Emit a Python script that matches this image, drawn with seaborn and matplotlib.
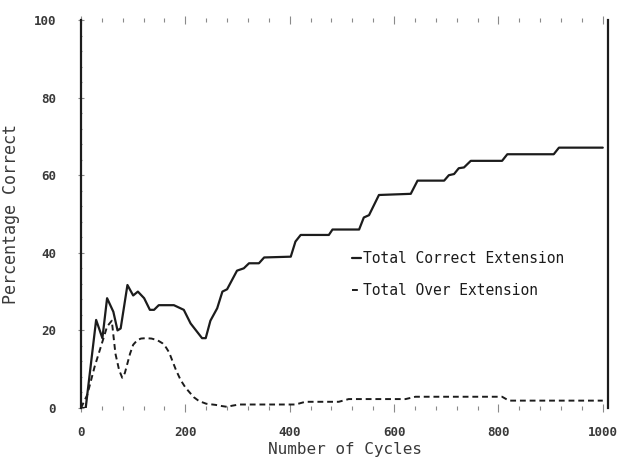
import matplotlib
matplotlib.use("Agg")
import matplotlib.pyplot as plt
import seaborn as sns
from matplotlib.ticker import MultipleLocator

# Learning curves: percentage correct against training cycles
cycles_correct = [0, 9, 29, 41, 50, 62, 70, 76, 89, 100, 109, 121, 132, 140, 149,
                  178, 197, 210, 232, 239, 248, 261, 271, 280, 299, 312, 322, 341,
                  351, 402, 411, 421, 475, 482, 533, 542, 552, 571, 632, 645, 696,
                  705, 715, 724, 734, 747, 807, 817, 906, 916, 1000]
pct_correct = [0, 0, 22.7, 18, 28.3, 24.8, 20, 20.5, 31.7, 29, 30, 28.3, 25.3, 25.3,
               26.5, 26.5, 25.3, 21.8, 18, 18, 22.5, 25.7, 30, 30.6, 35.4, 36, 37.3,
               37.3, 38.8, 39, 42.9, 44.6, 44.6, 46, 46, 49.1, 49.7, 54.9, 55.2, 58.6,
               58.6, 60, 60.3, 61.8, 62, 63.7, 63.7, 65.4, 65.4, 67.1, 67.1]

cycles_over = [0, 12, 26, 42, 50, 59, 66, 73, 79, 84, 89, 94, 100, 108, 115, 124,
               135, 146, 156, 163, 169, 175, 182, 191, 200, 207, 216, 226, 240, 258,
               270, 280, 290, 303, 411, 430, 494, 513, 622, 641, 807, 820, 1000]
pct_over = [0, 3.4, 10.6, 17.5, 21, 22.5, 14, 9.8, 7.8, 9, 11.5, 14, 16.3, 17.5,
            17.9, 18, 17.9, 17.5, 16.7, 15.6, 14.3, 12.2, 9.8, 7.2, 5.3, 4.2, 2.8,
            1.8, 1.1, 0.8, 0.5, 0.3, 0.6, 0.9, 0.9, 1.6, 1.6, 2.3, 2.3, 2.9, 2.9,
            1.9, 1.9]

series_names = ["Total Correct Extension", "Total Over Extension"]
x_ticks = [0, 200, 400, 600, 800, 1000]
y_ticks = [0, 20, 40, 60, 80, 100]

sns.set_style("white")
plt.rcParams["font.family"] = ["DejaVu Sans Mono"]

ink = "#1c1c1c"
text_col = "#3a3a3a"
tick_col = "#8a8a8a"

fig = plt.figure(figsize=(6.22, 4.58), dpi=100)
ax = fig.add_axes([81 / 622, 1 - 408 / 458, (608 - 81) / 622, 388 / 458])

sns.lineplot(x=cycles_correct, y=pct_correct, ax=ax, color=ink, lw=1.6,
             sort=False, estimator=None, label=series_names[0])
sns.lineplot(x=cycles_over, y=pct_over, ax=ax, color=ink, lw=1.4,
             ls=(0, (3.0, 2.0)), sort=False, estimator=None, label=series_names[1])

ax.set_xlim(0, 1010)
ax.set_ylim(0, 100)

for side in ("top", "bottom"):
    ax.spines[side].set_visible(False)
for side in ("left", "right"):
    ax.spines[side].set_visible(True)
    ax.spines[side].set_color(ink)
    ax.spines[side].set_linewidth(1.6)

ax.set_xticks(x_ticks)
ax.set_xticklabels([str(v) for v in x_ticks])
ax.set_yticks(y_ticks)
ax.set_yticklabels([str(v) for v in y_ticks])
ax.xaxis.set_minor_locator(MultipleLocator(40))
ax.yaxis.set_minor_locator(MultipleLocator(4))

ax.tick_params(axis="x", which="both", bottom=True, top=True, direction="inout",
               color=tick_col, labelcolor=text_col, width=0.8)
ax.tick_params(axis="x", which="major", length=6, pad=10, labelsize=9)
ax.tick_params(axis="x", which="minor", length=3)
ax.tick_params(axis="y", which="both", left=True, right=False, direction="inout",
               color=tick_col, labelcolor=text_col, width=0.8)
ax.tick_params(axis="y", which="major", length=4, pad=16, labelsize=9)
ax.tick_params(axis="y", which="minor", length=2)
for lab in ax.get_xticklabels() + ax.get_yticklabels():
    lab.set_fontweight("bold")

ax.set_xlabel("Number of Cycles", fontsize=11.5, color=text_col)
ax.set_ylabel("Percentage Correct", fontsize=12, color=text_col)
ax.xaxis.set_label_coords(0.5, -0.088)
ax.yaxis.set_label_coords(-0.115, 0.5)

ax.legend(loc="upper left", bbox_to_anchor=(0.515, 0.405), frameon=False,
          handlelength=0.6, handletextpad=0.15, labelspacing=1.15,
          borderpad=0, borderaxespad=0, labelcolor=ink,
          prop=dict(family="DejaVu Sans Mono", size=10.5))

fig.savefig("out.png", dpi=100, facecolor="white")
